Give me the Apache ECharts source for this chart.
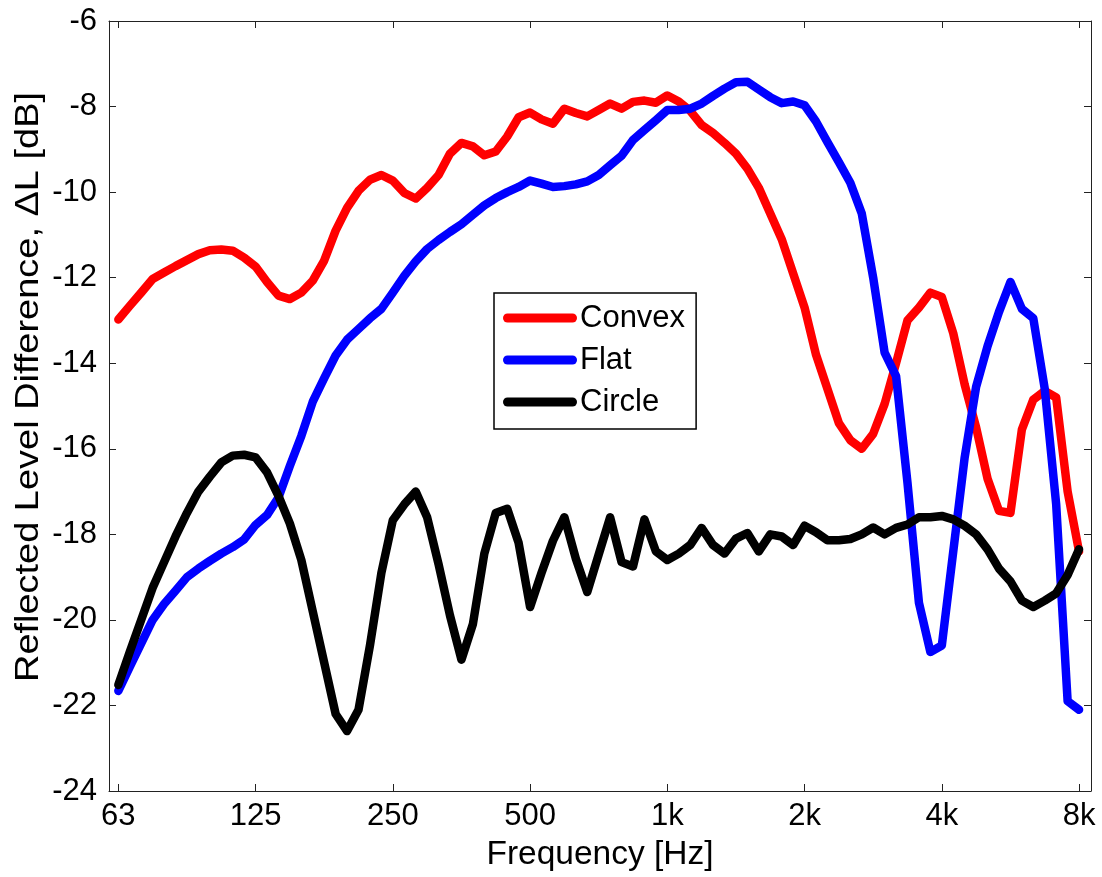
<!DOCTYPE html>
<html>
<head>
<meta charset="utf-8">
<script src="https://cdn.jsdelivr.net/npm/echarts@6/dist/echarts.min.js"></script>
<style>
html,body{margin:0;padding:0;background:#fff;}
#chart{width:1102px;height:877px;}
</style>
</head>
<body>
<div id="chart"></div>
<script>
// Octave-band tick labels (nominal centre frequencies)
const tickLabels = ['63', '125', '250', '500', '1k', '2k', '4k', '8k'];
// Data points are spaced 1/12 octave apart, starting at 63 Hz
const pointsPerOctave = 12;

const convex = [
  -12.98, -12.66, -12.35, -12.03, -11.88, -11.73, -11.59, -11.45, -11.36, -11.34,
  -11.37, -11.53, -11.74, -12.10, -12.42, -12.50, -12.35, -12.07, -11.60, -10.90,
  -10.37, -9.97, -9.71, -9.60, -9.73, -10.02, -10.15, -9.90, -9.60, -9.10,
  -8.85, -8.93, -9.14, -9.05, -8.70, -8.25, -8.14, -8.30, -8.40, -8.05,
  -8.15, -8.23, -8.08, -7.93, -8.05, -7.89, -7.86, -7.91, -7.74, -7.88,
  -8.10, -8.43, -8.62, -8.85, -9.10, -9.45, -9.90, -10.50, -11.10, -11.90,
  -12.70, -13.80, -14.60, -15.40, -15.80, -16.00, -15.65, -14.95, -14.00, -13.00,
  -12.70, -12.35, -12.45, -13.30, -14.50, -15.50, -16.70, -17.45, -17.50, -15.55,
  -14.85, -14.65, -14.80, -17.00, -18.40
];

const flat = [
  -21.66, -21.10, -20.55, -20.00, -19.63, -19.32, -19.00, -18.80, -18.62, -18.45,
  -18.30, -18.12, -17.78, -17.55, -17.14, -16.40, -15.70, -14.90, -14.35, -13.82,
  -13.45, -13.20, -12.95, -12.73, -12.35, -11.96, -11.62, -11.33, -11.12, -10.93,
  -10.75, -10.53, -10.31, -10.14, -10.00, -9.88, -9.73, -9.80, -9.88, -9.86,
  -9.82, -9.75, -9.60, -9.37, -9.15, -8.78, -8.55, -8.32, -8.08, -8.08,
  -8.05, -7.93, -7.75, -7.58, -7.43, -7.42, -7.60, -7.78, -7.92, -7.88,
  -7.97, -8.35, -8.83, -9.30, -9.78, -10.50, -12.00, -13.75, -14.30, -16.80,
  -19.60, -20.75, -20.60, -18.40, -16.20, -14.55, -13.60, -12.80, -12.10, -12.73,
  -12.95, -14.60, -17.30, -21.90, -22.10
];

const circle = [
  -21.52, -20.75, -20.00, -19.25, -18.65, -18.05, -17.50, -17.00, -16.65, -16.32,
  -16.16, -16.14, -16.20, -16.55, -17.10, -17.75, -18.60, -19.80, -21.00, -22.20,
  -22.60, -22.10, -20.60, -18.90, -17.67, -17.30, -17.00, -17.60, -18.70, -19.90,
  -20.93, -20.10, -18.45, -17.50, -17.40, -18.20, -19.70, -18.90, -18.15, -17.60,
  -18.57, -19.35, -18.47, -17.60, -18.65, -18.75, -17.65, -18.40, -18.60, -18.45,
  -18.25, -17.85, -18.25, -18.45, -18.10, -17.97, -18.40, -18.00, -18.05, -18.25,
  -17.80, -17.95, -18.14, -18.14, -18.11, -18.00, -17.84, -18.00, -17.85, -17.77,
  -17.60, -17.60, -17.57, -17.65, -17.80, -18.00, -18.35, -18.80, -19.10, -19.55,
  -19.70, -19.55, -19.38, -18.95, -18.35
];

const seriesNames = ['Convex', 'Flat', 'Circle'];
const seriesColors = ['#ff0000', '#0000ff', '#000000'];
const seriesValues = [convex, flat, circle];
const yTitle = 'Reflected Level Difference, \u0394L [dB]';
const xTitle = 'Frequency [Hz]';

const toPairs = (vals) => vals.map((v, i) => [i / pointsPerOctave, v]);
const octaveTicks = tickLabels.map((_, i) => i);

const FONT = "'Liberation Sans', Arial, Helvetica, sans-serif";
const frameColor = '#222';

const chart = echarts.init(document.getElementById('chart'), null, {renderer: 'canvas'});

const xBase = {
  type: 'value',
  min: -0.068,
  max: 7.087,
  axisLine: {show: true, onZero: false, lineStyle: {color: frameColor, width: 1}},
  splitLine: {show: false}
};
const yBase = {
  type: 'value',
  min: -24,
  max: -6,
  interval: 2,
  axisLine: {show: true, onZero: false, lineStyle: {color: frameColor, width: 1}},
  splitLine: {show: false}
};

chart.setOption({
  animation: false,
  backgroundColor: '#fff',
  grid: {left: 109, right: 11, top: 21, bottom: 80, containLabel: false},
  graphic: [{
    type: 'text',
    x: 29,
    y: 387,
    rotation: Math.PI / 2,
    scaleX: 1.15,
    silent: true,
    style: {
      text: yTitle,
      fontFamily: FONT,
      fontSize: 33,
      fill: '#000',
      align: 'center',
      verticalAlign: 'middle',
      textAlign: 'center',
      textVerticalAlign: 'middle'
    }
  }],
  xAxis: [
    Object.assign({}, xBase, {
      position: 'bottom',
      name: xTitle,
      nameLocation: 'middle',
      nameGap: 47,
      nameTextStyle: {fontFamily: FONT, fontSize: 33.5, color: '#000'},
      axisTick: {show: true, inside: true, length: 7, customValues: octaveTicks, lineStyle: {color: frameColor}},
      axisLabel: {
        show: true, customValues: octaveTicks, margin: 10,
        fontFamily: FONT, fontSize: 31, color: '#000',
        formatter: (v) => tickLabels[Math.round(v)]
      }
    }),
    Object.assign({}, xBase, {
      position: 'top',
      axisTick: {show: true, inside: true, length: 7, customValues: octaveTicks, lineStyle: {color: frameColor}},
      axisLabel: {show: false}
    })
  ],
  yAxis: [
    Object.assign({}, yBase, {
      position: 'left',
      axisTick: {show: true, inside: true, length: 7, lineStyle: {color: frameColor}},
      axisLabel: {show: true, margin: 12, fontFamily: FONT, fontSize: 31, color: '#000'}
    }),
    Object.assign({}, yBase, {
      position: 'right',
      axisTick: {show: true, inside: true, length: 7, lineStyle: {color: frameColor}},
      axisLabel: {show: false}
    })
  ],
  legend: {
    orient: 'vertical',
    left: 494,
    top: 293,
    padding: [8, 11, 10, 9],
    itemGap: 8,
    itemWidth: 74,
    itemHeight: 9,
    icon: 'path://M4.5,0 H69.5 A4.5,4.5 0 0 1 69.5,9 H4.5 A4.5,4.5 0 0 1 4.5,0 Z',
    borderColor: '#000',
    borderWidth: 1.5,
    backgroundColor: '#fff',
    textStyle: {fontFamily: FONT, fontSize: 31, color: '#000', lineHeight: 34, padding: [0, 0, 0, -2]},
    data: seriesNames
  },
  series: seriesNames.map((name, s) => ({
    name: name,
    type: 'line',
    xAxisIndex: 0,
    yAxisIndex: 0,
    data: toPairs(seriesValues[s]),
    showSymbol: false,
    symbol: 'none',
    color: seriesColors[s],
    lineStyle: {color: seriesColors[s], width: 8.5, cap: 'round', join: 'round'},
    z: 3 + s
  }))
});
</script>
</body>
</html>
